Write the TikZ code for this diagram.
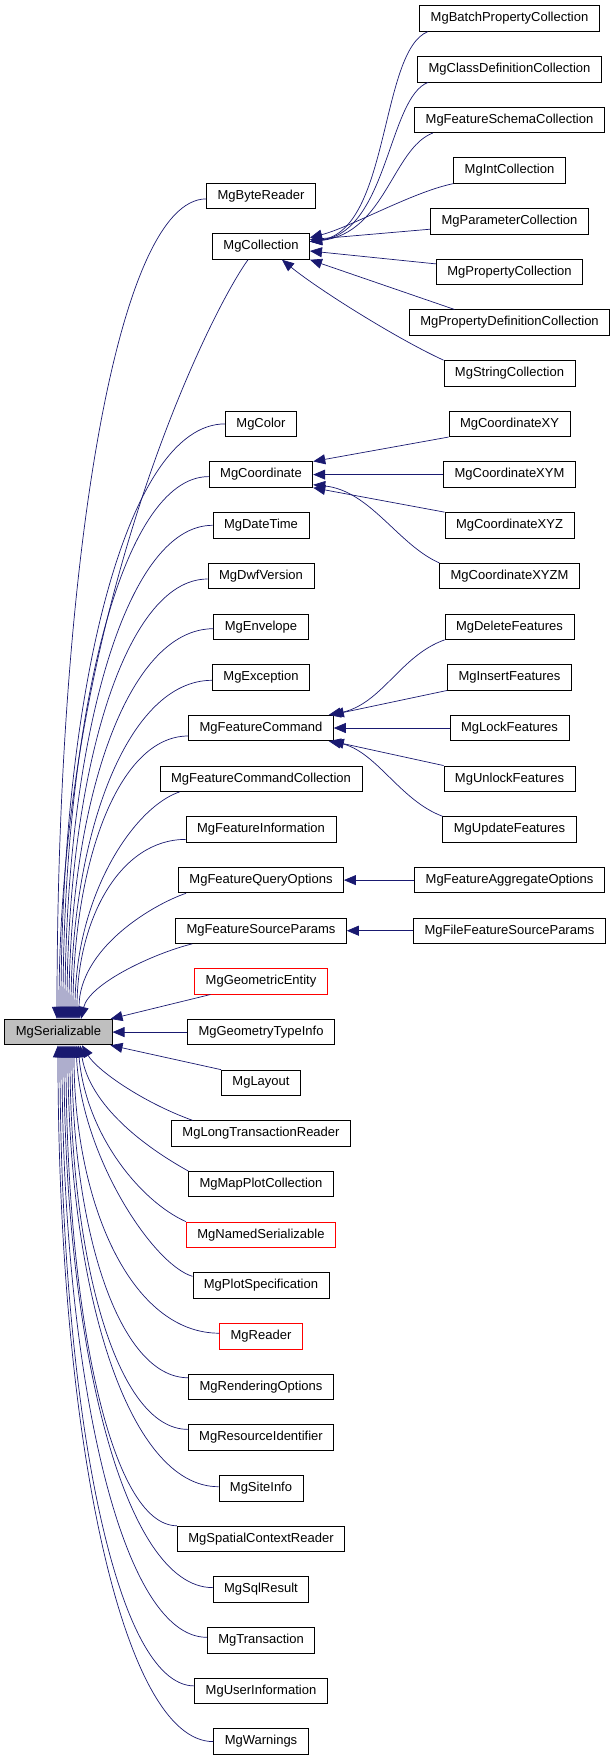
\documentclass[tikz,border=0pt]{standalone}
\usepackage{fontspec}
\setmainfont{Liberation Sans}
\usetikzlibrary{arrows.meta}
\definecolor{edgeblue}{RGB}{25,25,112}
\definecolor{basegray}{RGB}{191,191,191}
\tikzset{
  cls/.style={draw=black,fill=white,line width=0.8pt,inner xsep=11pt,inner ysep=0pt,
    minimum height=25.5pt,font=\fontsize{13}{15}\selectfont},
  base/.style={cls,fill=basegray},
  trunc/.style={cls,draw=red},
  inh/.style={draw=edgeblue,line width=0.7pt,-{Triangle[length=12pt,width=10pt]}}
}

\begin{document}
\begin{tikzpicture}[x=1pt,y=-1pt]
  \useasboundingbox (0,0) rectangle (612,1760);
  % root
  \node[base] (ser) at (58.5,1032.1) {MgSerializable};
  % direct subclasses
  \node[cls] (byte) at (261,195.9) {MgByteReader};
  \node[cls] (coll) at (261,246.6) {MgCollection};
  \node[cls] (color) at (261,423.9) {MgColor};
  \node[cls] (coord) at (261,474.6) {MgCoordinate};
  \node[cls] (dt) at (261,525.3) {MgDateTime};
  \node[cls] (dwf) at (261,576.0) {MgDwfVersion};
  \node[cls] (env) at (261,626.7) {MgEnvelope};
  \node[cls] (exc) at (261,677.3) {MgException};
  \node[cls] (fc) at (261,728.0) {MgFeatureCommand};
  \node[cls] (fcc) at (261,778.7) {MgFeatureCommandCollection};
  \node[cls] (fi) at (261,829.4) {MgFeatureInformation};
  \node[cls] (fqo) at (261,880.1) {MgFeatureQueryOptions};
  \node[cls] (fsp) at (261,930.7) {MgFeatureSourceParams};
  \node[trunc] (geo) at (261,981.4) {MgGeometricEntity};
  \node[cls] (gti) at (261,1032.1) {MgGeometryTypeInfo};
  \node[cls] (layout) at (261,1082.8) {MgLayout};
  \node[cls] (ltr) at (261,1133.5) {MgLongTransactionReader};
  \node[cls] (map) at (261,1184.1) {MgMapPlotCollection};
  \node[trunc] (named) at (261,1234.8) {MgNamedSerializable};
  \node[cls] (plot) at (261,1285.5) {MgPlotSpecification};
  \node[trunc] (reader) at (261,1336.2) {MgReader};
  \node[cls] (rend) at (261,1386.9) {MgRenderingOptions};
  \node[cls] (res) at (261,1437.5) {MgResourceIdentifier};
  \node[cls] (site) at (261,1488.2) {MgSiteInfo};
  \node[cls] (scr) at (261,1538.9) {MgSpatialContextReader};
  \node[cls] (sql) at (261,1589.6) {MgSqlResult};
  \node[cls] (trans) at (261,1640.3) {MgTransaction};
  \node[cls] (user) at (261,1690.9) {MgUserInformation};
  \node[cls] (warn) at (261,1741.6) {MgWarnings};
  % second level
  \node[cls] (batch) at (509.5,18.5) {MgBatchPropertyCollection};
  \node[cls] (class) at (509.5,69.2) {MgClassDefinitionCollection};
  \node[cls] (fsc) at (509.5,119.9) {MgFeatureSchemaCollection};
  \node[cls] (int) at (509.5,170.5) {MgIntCollection};
  \node[cls] (param) at (509.5,221.2) {MgParameterCollection};
  \node[cls] (prop) at (509.5,271.9) {MgPropertyCollection};
  \node[cls] (propdef) at (509.5,322.6) {MgPropertyDefinitionCollection};
  \node[cls] (str) at (509.5,373.3) {MgStringCollection};
  \node[cls] (xy) at (509.5,423.9) {MgCoordinateXY};
  \node[cls] (xym) at (509.5,474.6) {MgCoordinateXYM};
  \node[cls] (xyz) at (509.5,525.3) {MgCoordinateXYZ};
  \node[cls] (xyzm) at (509.5,576.0) {MgCoordinateXYZM};
  \node[cls] (del) at (509.5,626.7) {MgDeleteFeatures};
  \node[cls] (ins) at (509.5,677.3) {MgInsertFeatures};
  \node[cls] (lock) at (509.5,728.0) {MgLockFeatures};
  \node[cls] (unl) at (509.5,778.7) {MgUnlockFeatures};
  \node[cls] (upd) at (509.5,829.4) {MgUpdateFeatures};
  \node[cls] (agg) at (509.5,880.1) {MgFeatureAggregateOptions};
  \node[cls] (ffsp) at (509.5,930.7) {MgFileFeatureSourceParams};

  % edges into the top of the root
  \draw[inh] ([yshift=-3]byte.west) .. controls +(-90,0) and +(0,-451) .. ([xshift=-1.5]ser.north);
  \draw[inh] ([xshift=36]coll.south west) .. controls +(-40,55) and +(0,-400) .. ([xshift=0.5]ser.north);
  \draw[inh] (color.west) .. controls +(-99,0) and +(0,-327) .. ([xshift=2.5]ser.north);
  \draw[inh] ([yshift=-2]coord.west) .. controls +(-88,0) and +(0,-298) .. ([xshift=4.5]ser.north);
  \draw[inh] (dt.west) .. controls +(-89,0) and +(0,-272) .. ([xshift=6.5]ser.north);
  \draw[inh] ([yshift=-3]dwf.west) .. controls +(-84,0) and +(0,-242) .. ([xshift=8.5]ser.north);
  \draw[inh] ([yshift=-2]env.west) .. controls +(-87,0) and +(0,-215) .. ([xshift=10.5]ser.north);
  \draw[inh] ([yshift=-3]exc.west) .. controls +(-84,0) and +(0,-186) .. ([xshift=12.5]ser.north);
  \draw[inh] ([yshift=-8]fc.west) .. controls +(-70,0) and +(0,-156) .. ([xshift=14.5]ser.north);
  \draw[inh] ([xshift=20]fcc.south west) .. controls +(-45,15) and +(0,-125) .. ([xshift=16.5]ser.north);
  \draw[inh] ([yshift=-10]fi.west) .. controls +(-66,0) and +(0,-99) .. ([xshift=18.5]ser.north);
  \draw[inh] ([xshift=8]fqo.south west) .. controls +(-35,12) and +(0,-70) .. ([xshift=20.5]ser.north);
  \draw[inh] ([xshift=17]fsp.south west) .. controls +(-40,10) and +(8,-35) .. ([xshift=22.5]ser.north);
  % edges into the side
  \draw[inh] ([xshift=16]geo.south west) -- ([xshift=-2]ser.north east);
  \draw[inh] (gti.west) -- (ser.east);
  \draw[inh] (layout.north west) -- ([xshift=-2]ser.south east);
  % edges into the bottom of the root
  \draw[inh] ([xshift=21.5]ltr.north west) .. controls +(-50,-18) and +(15,25) .. ([xshift=23.5]ser.south);
  \draw[inh] (map.north west) .. controls +(-45,-25) and +(10,60) .. ([xshift=21.5]ser.south);
  \draw[inh] (named.north west) .. controls +(-45,-20) and +(8,90) .. ([xshift=19.5]ser.south);
  \draw[inh] ([yshift=-4]plot.north west) .. controls +(-40,-12) and +(5,110) .. ([xshift=17.5]ser.south);
  \draw[inh] ([yshift=3]reader.west) .. controls +(-88,0) and +(0,159) .. ([xshift=15.5]ser.south);
  \draw[inh] ([yshift=-4]rend.north west) .. controls +(-70,0) and +(0,183) .. ([xshift=13.5]ser.south);
  \draw[inh] ([yshift=-5]res.north west) .. controls +(-72,0) and +(0,212) .. ([xshift=11.5]ser.south);
  \draw[inh] ([yshift=1.5]site.west) .. controls +(-91,0) and +(0,243) .. ([xshift=9.5]ser.south);
  \draw[inh] (scr.north west) .. controls +(-67,0) and +(0,265) .. ([xshift=7.5]ser.south);
  \draw[inh] ([yshift=2]sql.west) .. controls +(-89,0) and +(0,299) .. ([xshift=5.5]ser.south);
  \draw[inh] ([yshift=3]trans.west) .. controls +(-87,0) and +(0,326) .. ([xshift=3.5]ser.south);
  \draw[inh] ([yshift=5]user.west) .. controls +(-81,0) and +(0,353) .. ([xshift=1.5]ser.south);
  \draw[inh] (warn.west) .. controls +(-93,0) and +(0,383) .. ([xshift=-0.5]ser.south);

  % collections
  \draw[inh] ([xshift=8.5]batch.south west) .. controls +(-48,19) and +(80,-12) .. ([yshift=5]coll.east);
  \draw[inh] ([xshift=11]class.south west) .. controls +(-40,15) and +(78,-10) .. ([yshift=5]coll.east);
  \draw[inh] ([xshift=18.5]fsc.south west) .. controls +(-40,15) and +(75,-8) .. ([yshift=5]coll.east);
  \draw[inh] (int.south west) .. controls +(-40,8) and +(40,-10) .. ([yshift=9]coll.east);
  \draw[inh] ([yshift=-8]param.west) -- ([yshift=7]coll.east);
  \draw[inh] ([yshift=8]prop.west) -- ([yshift=-4.4]coll.east);
  \draw[inh] ([xshift=45.6]propdef.north west) -- (coll.south east);
  \draw[inh] (str.north west) .. controls +(-44,-20) and +(38,31) .. ([xshift=-28]coll.south east);
  % coordinates
  \draw[inh] (xy.south west) -- (coord.north east);
  \draw[inh] (xym.west) -- (coord.east);
  \draw[inh] (xyz.north west) -- (coord.south east);
  \draw[inh] (xyzm.north west) .. controls +(-41,-18) and +(57,6) .. ([yshift=3]coord.south east);
  % feature commands
  \draw[inh] (del.south west) .. controls +(-45,16) and +(53,-10) .. ([xshift=-5]fc.north east);
  \draw[inh] (ins.south west) -- ([xshift=-2]fc.north east);
  \draw[inh] (lock.west) -- (fc.east);
  \draw[inh] (unl.north west) -- ([xshift=-2]fc.south east);
  \draw[inh] (upd.north west) .. controls +(-43,-16) and +(47,9) .. ([xshift=-5]fc.south east);
  % options and params
  \draw[inh] (agg.west) -- (fqo.east);
  \draw[inh] (ffsp.west) -- (fsp.east);
\end{tikzpicture}
\end{document}
